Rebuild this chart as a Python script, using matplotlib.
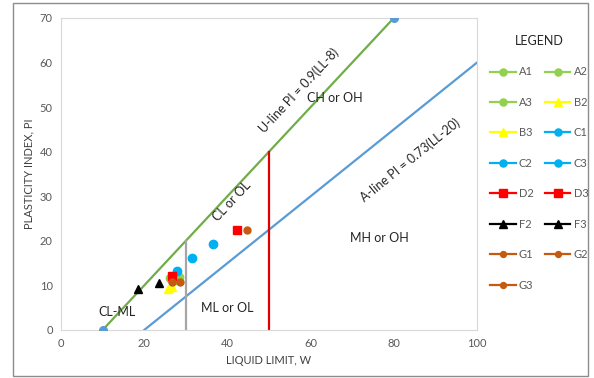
import matplotlib.pyplot as plt
from matplotlib.patches import Rectangle

plt.rcParams['font.family'] = ['Lato', 'DejaVu Sans']

# sample points (liquid limit, plasticity index)
names = ['A1', 'A2', 'A3', 'B2', 'B3', 'C1', 'C2', 'C3',
         'D2', 'D3', 'F2', 'F3', 'G1', 'G2', 'G3']
ll = [28.4, 26.2, 27.5, 25.8, 26.6, 27.8, 31.6, 36.6,
      26.7, 42.2, 18.6, 23.6, 26.7, 28.6, 44.7]
pi = [12.0, 11.6, 11.2, 9.2, 9.6, 13.2, 16.2, 19.2,
      12.2, 22.4, 9.1, 10.5, 10.8, 10.8, 22.4]

group_style = {
    'A': ('#92D050', 'o', 6),
    'B': ('#FFFF00', '^', 6),
    'C': ('#00B0F0', 'o', 6),
    'D': ('#FF0000', 's', 6),
    'F': ('#000000', '^', 6),
    'G': ('#C55A11', 'o', 5),
}

# chart lines
u_x = [10, 80]
u_y = [0, 70]
a_x = [20, 100]
a_y = [0, 60]
gray_x = [30, 30]
gray_y = [0, 20]
red_x = [50, 50]
red_y = [0, 40]

fig = plt.figure(figsize=(5.94, 3.78), dpi=100)
ax = fig.add_axes([61 / 594, 1 - 330 / 378, 416 / 594, 312 / 378])

ax.plot(u_x, u_y, color='#70AD47', lw=1.6, zorder=2)
ax.plot(u_x, u_y, 'o', color='#5B9BD5', ms=5.5, zorder=3)
ax.plot(a_x, a_y, color='#5B9BD5', lw=1.6, zorder=2)
ax.plot(gray_x, gray_y, color='#A6A6A6', lw=1.6, zorder=2)
ax.plot(red_x, red_y, color='#E00000', lw=1.6, zorder=2)

handles = {}
for n, x, y in zip(names, ll, pi):
    c, m, s = group_style[n[0]]
    h, = ax.plot([x], [y], marker=m, color=c, ms=s, lw=1.6, ls='-',
                 zorder=4, label=n)
    handles[n] = h

ax.set_xlim(0, 100)
ax.set_ylim(0, 70)
ax.set_xticks(range(0, 101, 20))
ax.set_yticks(range(0, 71, 10))
ax.tick_params(length=0, labelsize=8, labelcolor='#595959', pad=6)
for sp in ax.spines.values():
    sp.set_color('#D9D9D9')
ax.set_xlabel('LIQUID LIMIT, W', fontsize=8, color='#404040', labelpad=4)
ax.set_ylabel('PLASTICITY INDEX, PI', fontsize=8, color='#404040', labelpad=4)

txt = dict(fontsize=9, color='#262626', ha='center', va='center')
ax.text(57.3, 53.8, 'U-line PI = 0.9(LL-8)', rotation=47, **txt)
ax.text(83.9, 38.2, 'A-line PI = 0.73(LL-20)', rotation=39, **txt)
ax.text(65.8, 52, 'CH or OH', **txt)
ax.text(41, 29, 'CL or OL', rotation=47, **txt)
ax.text(76.6, 20.6, 'MH or OH', **txt)
ax.text(40, 5, 'ML or OL', **txt)
ax.text(13.5, 4, 'CL-ML', **txt)

# legend filled row by row in the reference, matplotlib fills by column
order = ['A1', 'A3', 'B3', 'C2', 'D2', 'F2', 'G1', 'G3',
         'A2', 'B2', 'C1', 'C3', 'D3', 'F3', 'G2']
leg = fig.legend([handles[n] for n in order], order, ncol=2,
                 loc='upper left', bbox_to_anchor=(480 / 594, 1 - 25 / 378),
                 frameon=False, fontsize=8, labelspacing=1.75,
                 handlelength=2.3, handletextpad=0.3, columnspacing=1.0,
                 markerscale=0.85, title='LEGEND', title_fontsize=9)
for t in leg.get_texts():
    t.set_color('#595959')
leg.get_title().set_color('#262626')
leg._legend_box.sep = 14

fig.patches.append(Rectangle((13 / 594, 2 / 378), 575 / 594, 373 / 378,
                             transform=fig.transFigure, fill=False,
                             edgecolor='#8C8C8C', lw=1))

fig.savefig('out.png', dpi=100)
